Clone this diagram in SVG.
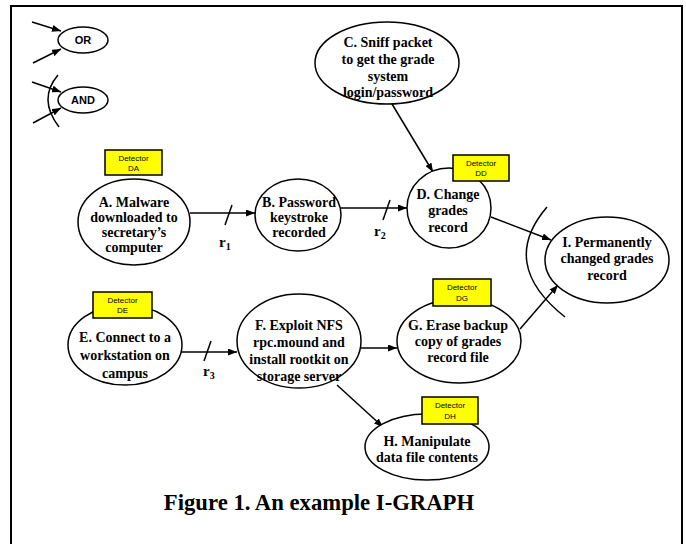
<svg xmlns="http://www.w3.org/2000/svg" width="686" height="544" viewBox="0 0 686 544">
  <defs>
    <marker id="arrow" markerUnits="userSpaceOnUse" markerWidth="9" markerHeight="7" refX="9" refY="3.5" orient="auto">
      <path d="M0,0 L9,3.5 L0,7 z" fill="#000"/>
    </marker>
    <style>
      .node { fill: #fff; stroke: #000; stroke-width: 1.5; }
      .lbl { font-family: "Liberation Serif", "Times New Roman", serif; font-weight: bold; font-size: 14px; fill: #000; text-anchor: middle; }
      .gate { font-family: "Liberation Sans", Arial, sans-serif; font-weight: bold; font-size: 11px; text-anchor: middle; }
      .det { fill: #ffff00; stroke: #000; stroke-width: 1.5; }
      .dett { font-family: "Liberation Sans", Arial, sans-serif; font-size: 8px; text-anchor: middle; }
      .edge { fill: none; stroke: #000; stroke-width: 1.5; }
      .arr { marker-end: url(#arrow); }
      .rl { font-family: "Liberation Serif", "Times New Roman", serif; font-weight: bold; font-size: 15px; }
      .sub { font-size: 10px; }
    </style>
  </defs>

  <rect x="11" y="6" width="671" height="550" fill="#fff" stroke="#000" stroke-width="2"/>

  <!-- legend -->
  <g id="legend-or">
    <ellipse class="node" cx="83" cy="40" rx="25" ry="13"/>
    <text class="gate" x="83" y="44">OR</text>
    <line class="edge arr" x1="32" y1="22" x2="61" y2="31"/>
    <line class="edge arr" x1="33" y1="63" x2="61" y2="49"/>
  </g>
  <g id="legend-and">
    <ellipse class="node" cx="83" cy="100" rx="25" ry="13"/>
    <text class="gate" x="83" y="104">AND</text>
    <line class="edge arr" x1="32" y1="82" x2="61" y2="92"/>
    <line class="edge arr" x1="33" y1="123" x2="61" y2="108"/>
    <path class="edge" d="M58,75 Q37.5,99 59,127"/>
  </g>

  <!-- connectors -->
  <g id="connectors">
    <line class="edge arr" x1="190" y1="213" x2="255" y2="213"/>
    <line class="edge" x1="232" y1="205" x2="225" y2="225"/>
    <line class="edge arr" x1="341" y1="208" x2="407" y2="208"/>
    <line class="edge" x1="390" y1="200" x2="383" y2="220"/>
    <line class="edge arr" x1="392" y1="104" x2="433" y2="172"/>
    <line class="edge arr" x1="491" y1="217" x2="551" y2="240"/>
    <line class="edge arr" x1="520" y1="329" x2="558" y2="285"/>
    <path class="edge" d="M547,207 Q498,264 565,317"/>
    <line class="edge arr" x1="181" y1="352" x2="237" y2="352"/>
    <line class="edge" x1="211" y1="341" x2="204" y2="361"/>
    <line class="edge arr" x1="360" y1="348" x2="397" y2="348"/>
    <line class="edge arr" x1="337" y1="385" x2="383" y2="427"/>
    <text class="rl" x="219" y="247">r<tspan class="sub" dy="3">1</tspan></text>
    <text class="rl" x="374" y="236">r<tspan class="sub" dy="3">2</tspan></text>
    <text class="rl" x="203" y="376">r<tspan class="sub" dy="3">3</tspan></text>
  </g>

  <g id="node-c">
    <ellipse class="node" cx="387" cy="63" rx="72" ry="41"/>
    <text class="lbl" x="388" y="47">C. Sniff packet</text>
    <text class="lbl" x="388" y="64">to get the grade</text>
    <text class="lbl" x="388" y="81">system</text>
    <text class="lbl" x="388" y="97">login/password</text>
  </g>

  <g id="node-a">
    <ellipse class="node" cx="134" cy="222" rx="56" ry="43"/>
    <text class="lbl" x="134" y="207">A. Malware</text>
    <text class="lbl" x="134" y="222">downloaded to</text>
    <text class="lbl" x="134" y="237">secretary’s</text>
    <text class="lbl" x="134" y="252">computer</text>
    <rect class="det" x="105" y="150" width="57" height="25"/>
    <text class="dett" x="133.5" y="161">Detector</text>
    <text class="dett" x="133.5" y="171">DA</text>
  </g>

  <g id="node-b">
    <ellipse class="node" cx="298" cy="215" rx="43" ry="36"/>
    <text class="lbl" x="299" y="207">B. Password</text>
    <text class="lbl" x="299" y="222">keystroke</text>
    <text class="lbl" x="299" y="237">recorded</text>
  </g>

  <g id="node-d">
    <ellipse class="node" cx="449" cy="208" rx="42" ry="40"/>
    <text class="lbl" x="448" y="199">D. Change</text>
    <text class="lbl" x="448" y="215">grades</text>
    <text class="lbl" x="448" y="232">record</text>
    <rect class="det" x="453" y="155" width="56" height="26"/>
    <text class="dett" x="481" y="166">Detector</text>
    <text class="dett" x="481" y="176">DD</text>
  </g>

  <g id="node-i">
    <ellipse class="node" cx="607" cy="260" rx="62" ry="43"/>
    <text class="lbl" x="607" y="247">I. Permanently</text>
    <text class="lbl" x="607" y="263">changed grades</text>
    <text class="lbl" x="607" y="280">record</text>
  </g>

  <g id="node-e">
    <ellipse class="node" cx="125" cy="345" rx="57" ry="40"/>
    <text class="lbl" x="125" y="342">E. Connect to a</text>
    <text class="lbl" x="125" y="360">workstation on</text>
    <text class="lbl" x="125" y="378">campus</text>
    <rect class="det" x="93" y="292" width="59" height="26"/>
    <text class="dett" x="122.5" y="303">Detector</text>
    <text class="dett" x="122.5" y="313">DE</text>
  </g>

  <g id="node-f">
    <ellipse class="node" cx="299" cy="341" rx="62" ry="47"/>
    <text class="lbl" x="299" y="330">F. Exploit NFS</text>
    <text class="lbl" x="299" y="347">rpc.mound and</text>
    <text class="lbl" x="299" y="364">install rootkit on</text>
    <text class="lbl" x="299" y="381">storage server</text>
  </g>

  <g id="node-g">
    <ellipse class="node" cx="459" cy="341" rx="62" ry="42"/>
    <text class="lbl" x="458" y="330">G. Erase backup</text>
    <text class="lbl" x="458" y="346">copy of grades</text>
    <text class="lbl" x="458" y="362">record file</text>
    <rect class="det" x="433" y="279" width="58" height="27"/>
    <text class="dett" x="462" y="290">Detector</text>
    <text class="dett" x="462" y="301">DG</text>
  </g>

  <g id="node-h">
    <ellipse class="node" cx="427" cy="447" rx="62" ry="33"/>
    <text class="lbl" x="427" y="446">H. Manipulate</text>
    <text class="lbl" x="427" y="462">data file contents</text>
    <rect class="det" x="422" y="397" width="56" height="27"/>
    <text class="dett" x="450" y="408">Detector</text>
    <text class="dett" x="450" y="419">DH</text>
  </g>

  <text x="319" y="510" font-family="Liberation Serif, 'Times New Roman', serif" font-weight="bold" font-size="22.7" text-anchor="middle">Figure 1. An example I-GRAPH</text>
</svg>
